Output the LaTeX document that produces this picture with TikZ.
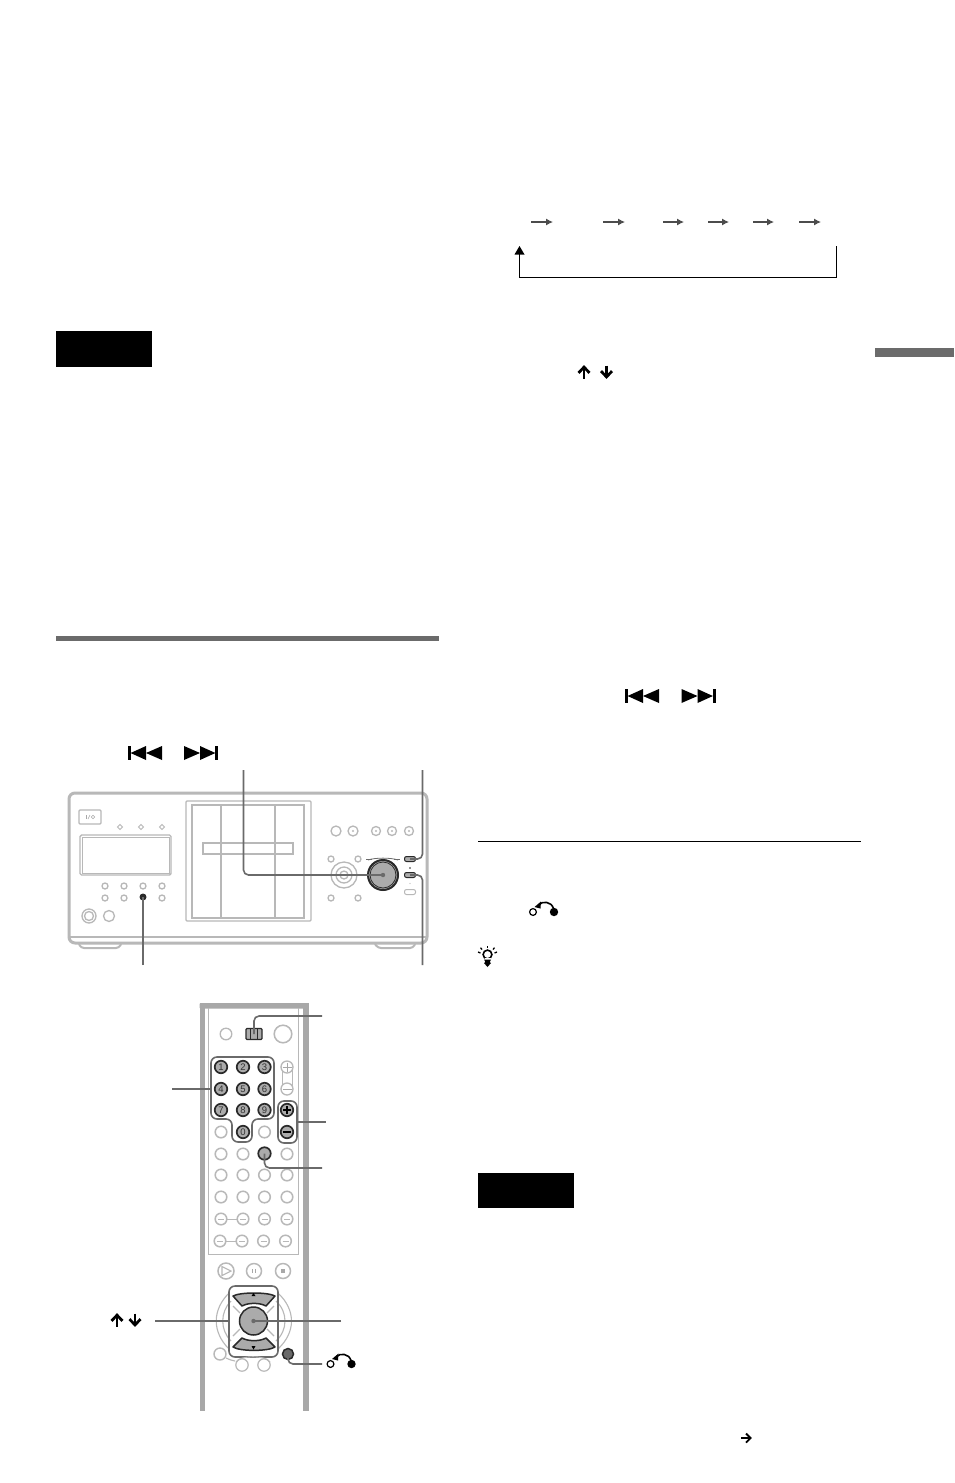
\documentclass[tikz,border=0pt]{standalone}
\usepackage{fontspec}
\setmainfont{Liberation Sans}
\usetikzlibrary{arrows.meta}
\definecolor{lightline}{HTML}{B8B8B8}
\definecolor{midline}{HTML}{A8A8A8}
\definecolor{leader}{HTML}{6A6A6A}
\definecolor{keyfill}{HTML}{ABABAB}
\definecolor{keyedge}{HTML}{2A2A2A}
\definecolor{barfill}{HTML}{6B6B6B}
\tikzset{
  x=1pt,y=-1pt,
  lightpart/.style={draw=lightline,line width=1.3pt,fill=white},
  thickpart/.style={draw=lightline,line width=3pt,fill=white,rounded corners=4pt},
  leadline/.style={draw=leader,line width=1.6pt,rounded corners=5pt},
  outline/.style={draw=leader,line width=1.6pt,rounded corners=6pt},
  flow/.style={draw=black!70,line width=1.1pt,-{Latex[length=7pt,width=7pt]}},
  loopline/.style={draw=black,line width=.9pt},
  keydark/.style={circle,inner sep=0pt,minimum size=12.5pt,fill=keyfill,draw=keyedge,line width=1.7pt,font=\fontsize{9.5}{10}\selectfont,text=black!80},
  prevsym/.pic={
    \fill[black] (0,0) rectangle (2.6,14);
    \fill[black] (2.6,7) -- (18,0) -- (18,14) -- cycle;
    \fill[black] (18,7) -- (34,0) -- (34,14) -- cycle;
  },
  nextsym/.pic={
    \fill[black] (34,0) rectangle (31.4,14);
    \fill[black] (31.4,7) -- (16,0) -- (16,14) -- cycle;
    \fill[black] (16,7) -- (0,0) -- (0,14) -- cycle;
  },
  uparrowsym/.pic={
    \draw[black,line width=2.8pt] (0,6.5) -- (0,-4);
    \draw[black,line width=2.8pt,miter limit=6] (-5.5,0.8) -- (0,-4.8) -- (5.5,0.8);
  },
  downarrowsym/.pic={
    \draw[black,line width=2.8pt] (0,-6.5) -- (0,4);
    \draw[black,line width=2.8pt,miter limit=6] (-5.5,-0.8) -- (0,4.8) -- (5.5,-0.8);
  },
  returnsym/.pic={
    \draw[black,line width=1.2pt,fill=white] (-10.5,0) circle (3.4);
    \fill[black] (10.5,0) circle (4.2);
    \draw[black,line width=1.6pt] (10,-3.5) .. controls (8,-10.5) and (-1,-11.5) .. (-5,-7);
    \fill[black] (-9,-5) -- (-2.5,-10.5) -- (-3,-3.5) -- cycle;
  }
}
\begin{document}
\begin{tikzpicture}
\useasboundingbox (0,0) rectangle (954,1483);
\fill[white] (0,0) rectangle (954,1483);

% page furniture
\node[fill=black,draw=none,minimum width=96pt,minimum height=36pt,inner sep=0pt] (noteA) at (104,349) {};
\node[fill=black,draw=none,minimum width=96pt,minimum height=35pt,inner sep=0pt] (noteB) at (526,1190.5) {};
\fill[barfill] (875,348) rectangle (954,357);
\fill[barfill] (56,636) rectangle (439,641);
\draw[black,line width=1pt] (478,841.5) -- (861,841.5);

% flow arrows
\foreach \i/\a/\b in {1/531/553,2/603/625,3/663/684,4/708/729,5/753/774,6/799/821}{
  \coordinate (f\i a) at (\a,222);
  \coordinate (f\i b) at (\b,222);
  \draw[flow] (f\i a) -- (f\i b);
}
\coordinate (loopStart) at (836.5,246);
\coordinate (loopEnd) at (519.5,246);
\draw[loopline] (loopStart) |- (519.5,277) -- (519.5,253);
\fill[black] (loopEnd) -- (514.5,254.5) -- (524.5,254.5) -- cycle;

% symbols in text
\pic at (128,746) {prevsym};
\pic at (184,746) {nextsym};
\pic at (625,689) {prevsym};
\pic at (681.5,689) {nextsym};
\pic at (584,372) {uparrowsym};
\pic at (606.5,372) {downarrowsym};
\pic at (117,1320) {uparrowsym};
\pic at (135,1320) {downarrowsym};
\pic at (543.5,912) {returnsym};
\pic at (341,1364) {returnsym};
% tip symbol
\draw[black,line width=1.6pt] (487.5,954.5) circle (4.4);
\foreach \dx/\dy/\ex/\ey in {0/-6.5/0/-8.8,-5.5/-5/-7/-6.8,5.5/-5/7/-6.8,-7/-1.5/-9.5/-2.5,7/-1.5/9.5/-2.5}{
  \draw[black,line width=1.3pt] (487.5+\dx,954.5+\dy) -- (487.5+\ex,954.5+\ey);
}
\fill[white] (484.5,957.5) rectangle (490.5,960);
\fill[black] (484,959.5) -- (491,959.5) -- (490,961.5) -- (489.5,962) -- (491,963) -- (487.5,967) -- (484,963) -- (485.5,962) -- (485,961.5) -- cycle;
% small arrow bottom
\draw[black,line width=1.8pt] (741,1438) -- (750,1438);
\draw[black,line width=1.8pt] (746,1433.5) -- (750.5,1438) -- (746,1442.5);

% ===== player front =====
\draw[thickpart,rounded corners=6pt] (69,793) rectangle (427,943);
\draw[lightline,line width=2.5pt] (70,937) -- (426,937);
\draw[lightline,line width=2pt,rounded corners=3pt] (79,944) -- (81,948) -- (119,948) -- (121,944);
\draw[lightline,line width=2pt,rounded corners=3pt] (375,944) -- (378,948) -- (413,948) -- (415,944);
% door
\draw[lightline,line width=1.3pt,rounded corners=1pt] (186,801) rectangle (311,921);
\draw[lightline,line width=1.1pt] (192,805) rectangle (304,918);
\draw[lightline,line width=1.1pt] (221,805) -- (221,918);
\draw[lightline,line width=1.1pt] (275,805) -- (275,918);
\draw[lightline,line width=1.1pt,fill=white] (203,843) rectangle (293,854);
\draw[lightline,line width=1.1pt] (221,843) -- (221,854);
\draw[lightline,line width=1.1pt] (275,843) -- (275,854);
% power
\draw[lightline,line width=1.1pt,rounded corners=1pt] (79,810) rectangle (101,824);
\draw[midline,line width=.6pt] (86,815) -- (86,819);
\draw[midline,line width=.6pt] (88,819) -- (90,815);
\draw[midline,line width=.6pt] (93,817) circle (1.8);
% indicators
\foreach \x in {120,141,162}{\draw[lightline,line width=1pt] (\x,824.5) -- (\x+2.5,827) -- (\x,829.5) -- (\x-2.5,827) -- cycle;}
% display
\draw[lightline,line width=1.4pt,rounded corners=1.5pt] (80,835) rectangle (171,875);
\draw[lightline,line width=.8pt] (82,837) rectangle (169,873);
% lower-left buttons
\foreach \x in {105,124,143,162}{\draw[lightpart] (\x,886) circle (3);}
\foreach \x in {105,124,162}{\draw[lightpart] (\x,898) circle (3);}
\node[circle,fill=keyedge,draw=none,inner sep=0pt,minimum size=7pt] (playBtn) at (143,897) {};
\draw[lightpart] (89,916) circle (7);
\draw[lightpart] (89,916) circle (4.5);
\draw[lightpart] (109,916) circle (5.5);
% top-right buttons
\draw[lightpart] (336,831) circle (5);
\draw[lightpart] (353,831) circle (5);
\foreach \x in {376,392,409}{\draw[lightpart] (\x,831) circle (4.5);}
\foreach \x in {353,376,392,409}{\fill[lightline] (\x,831) circle (1.2);}
% joystick
\draw[lightpart] (344,875) circle (13);
\draw[lightpart] (344,875) circle (8);
\draw[lightpart] (344,875) circle (4);
\foreach \x/\y in {331/859,358/859,331/898,358/898}{\draw[lightpart] (\x,\y) circle (3);}
% jog dial
\node[circle,draw=keyedge,line width=2pt,fill=keyfill,inner sep=0pt,minimum size=30pt] (jog) at (383,875) {};
\draw[keyedge,line width=.8pt] (383,875) circle (13);
\draw[leader,line width=.8pt] (368,860) .. controls (375,857.5) and (391,857.5) .. (398,860);
\fill[leader] (366,859) rectangle (372,860);
\fill[leader] (394,859) rectangle (400,860);
% oval buttons
\node[draw=keyedge,fill=keyfill,line width=1pt,rounded corners=2pt,inner sep=0pt,minimum width=11pt,minimum height=5pt] (ovalA) at (410,859) {};
\node[draw=keyedge,fill=keyfill,line width=1pt,rounded corners=2pt,inner sep=0pt,minimum width=11pt,minimum height=5pt] (ovalB) at (410,875) {};
\node[draw=lightline,fill=white,line width=1pt,rounded corners=2pt,inner sep=0pt,minimum width=11pt,minimum height=5pt] (ovalC) at (410,892) {};
\fill[lightline] (410,883.5) circle (.7);
\fill[keyedge] (410,868) circle (.8);
% leaders
\coordinate (lA) at (243.5,770);
\coordinate (lB) at (422.5,770);
\coordinate (lC) at (422.5,965);
\coordinate (lD) at (143,965);
\draw[leadline] (lA) |- (jog.center);
\fill[leader] (jog.center) circle (2.2);
\draw[leadline] (lB) |- (ovalA.center);
\draw[leadline] (lC) |- (ovalB.center);
\draw[leadline] (lD) -- (playBtn.center);

% ===== remote =====
\fill[midline,rounded corners=1pt] (199.5,1003) rectangle (308,1008.5);
\fill[midline] (199.5,1003) rectangle (205,1411);
\fill[midline] (303,1003) rectangle (308.5,1411);
\draw[lightline,line width=1pt] (208.5,1008) -- (208.5,1254) -- (298.5,1254) -- (298.5,1008);
% top buttons
\draw[lightpart] (226,1034) circle (5.8);
\draw[lightpart,line width=1.5pt] (283,1034) circle (8.8);
\node[draw=keyedge,fill=keyfill,line width=1.3pt,rounded corners=1pt,inner sep=0pt,minimum width=16pt,minimum height=11pt] (modeSw) at (254,1034) {};
\draw[keyedge,line width=.9pt] (250.5,1028.5) -- (250.5,1039.5);
\draw[keyedge,line width=.9pt] (257.5,1028.5) -- (257.5,1039.5);
% keypad
\foreach \n/\x/\y in {1/221/1067,2/243/1067,3/264.5/1067,4/221/1089,5/243/1089,6/264.5/1089,7/221/1110,8/243/1110,9/264.5/1110,0/243/1132}{
  \node[keydark] (k\n) at (\x,\y) {\n};
}
% volume light
\draw[lightline,line width=1pt] (282,1067) -- (282,1089);
\draw[lightline,line width=1pt] (292,1067) -- (292,1089);
\node[lightpart,circle,inner sep=0pt,minimum size=12pt] (volU) at (287,1067) {};
\node[lightpart,circle,inner sep=0pt,minimum size=12pt] (volD) at (287,1089) {};
\draw[midline,line width=1pt] (282.5,1067) -- (291.5,1067) (287,1062.5) -- (287,1071.5);
\draw[midline,line width=1pt] (282.5,1089) -- (291.5,1089);
% plus minus dark
\node[keydark] (pl) at (287,1110) {};
\node[keydark] (mi) at (287,1132) {};
\draw[black,line width=1.2pt] (283,1110) -- (291,1110) (287,1106) -- (287,1114);
\draw[black,line width=1.2pt] (283,1132) -- (291,1132);
% remaining light keys
\foreach \x/\y in {221/1132,264.5/1132,221/1154,243/1154,287/1154,
  221/1175,243/1175,264.5/1175,287/1175,221/1197,243/1197,264.5/1197,287/1197,
  221/1219,243/1219,264.5/1219,287/1219,220/1241,242/1241,263.5/1241,285.5/1241}{
  \draw[lightpart,line width=1.5pt] (\x,\y) circle (5.8);
}
\foreach \x/\y in {221/1219,243/1219,264.5/1219,287/1219,220/1241,242/1241,263.5/1241,285.5/1241}{
  \draw[lightline,line width=1pt] (\x-3,\y) -- (\x+3,\y);
}
\draw[lightline,line width=1pt] (227,1219) -- (237,1219);
\draw[lightline,line width=1pt] (226,1241) -- (236,1241);
\node[keydark,minimum size=12.5pt] (selBtn) at (264.5,1153.5) {};
% keypad outline
\draw[outline] (211,1057) -- (274,1057) -- (274,1119) -- (252,1119) -- (252,1142) -- (232,1142) -- (232,1119) -- (211,1119) -- cycle;
\draw[outline] (278,1101) rectangle (297,1143);
\coordinate (kpL) at (172,1089);
\coordinate (kpR) at (211,1089);
\coordinate (swR) at (322,1016);
\coordinate (volL) at (297,1122);
\coordinate (volR) at (326,1122);
\coordinate (selR) at (322,1168);
\draw[leadline] (kpL) -- (kpR);
\draw[leadline] (swR) -| (modeSw.center);
\draw[leadline] (volL) -- (volR);
\draw[leadline] (selR) -| (selBtn.center);
% transport
\draw[lightpart,line width=1.5pt] (226,1271) circle (8);
\draw[lightline,line width=1.1pt] (222,1266.5) -- (231,1271) -- (222,1275.5) -- cycle;
\draw[lightpart,line width=1.5pt] (254,1271) circle (7.5);
\draw[midline,line width=1pt] (252.5,1269) -- (252.5,1273) (255,1269) -- (255,1273);
\draw[lightpart,line width=1.5pt] (283,1271) circle (7.5);
\fill[midline] (281,1269) rectangle (285,1273);
% d-pad
\draw[lightline,line width=1.1pt] (229,1293) .. controls (212,1310) and (212,1332) .. (229,1349);
\draw[lightline,line width=1.1pt] (278,1293) .. controls (296,1310) and (296,1332) .. (278,1349);
\draw[lightline,line width=1.1pt] (231,1301) .. controls (220,1312) and (220,1330) .. (231,1341);
\draw[lightline,line width=1.1pt] (276,1301) .. controls (288,1312) and (288,1330) .. (276,1341);
\draw[lightline,line width=1.1pt] (233,1306) -- (240,1313) (233,1336) -- (240,1329);
\draw[lightline,line width=1.1pt] (274,1306) -- (267,1313) (274,1336) -- (267,1329);
\draw[draw=keyedge,fill=keyfill,line width=1.5pt,line join=round] (233,1296) .. controls (240,1292) and (268,1292) .. (275,1296) -- (266,1306) .. controls (260,1302.5) and (248,1302.5) .. (242,1306) -- cycle;
\draw[draw=keyedge,fill=keyfill,line width=1.5pt,line join=round] (233,1347) .. controls (240,1351.5) and (268,1351.5) .. (275,1347) -- (266,1338) .. controls (260,1341.5) and (248,1341.5) .. (242,1338) -- cycle;
\fill[black] (253.5,1293) -- (255.5,1296) -- (251.5,1296) -- cycle;
\fill[black] (251.5,1346) -- (255.5,1346) -- (253.5,1349.5) -- cycle;
\node[circle,draw=keyedge,fill=keyfill,line width=1.5pt,inner sep=0pt,minimum size=28pt] (enter) at (253.5,1321) {};
\draw[outline] (229,1286) rectangle (278,1357);
\draw[lightpart,line width=1.4pt] (220,1354) circle (6);
\draw[lightline,line width=1.1pt] (226,1358) .. controls (229,1360) and (232,1360) .. (235,1361);
\draw[lightline,line width=1.2pt] (242,1365) circle (6.2);
\draw[lightline,line width=1.2pt] (264,1365) circle (6.2);
\draw[lightline,line width=1.1pt] (236,1362) .. controls (240,1355) and (266,1355) .. (270,1362);
\node[circle,draw=keyedge,fill=leader,line width=1.5pt,inner sep=0pt,minimum size=11pt] (retBtn) at (288,1354) {};
\coordinate (arL) at (155,1321);
\coordinate (arR) at (229,1321);
\coordinate (enR) at (341,1321);
\coordinate (reR) at (322,1364);
\draw[leadline] (arL) -- (arR);
\draw[leadline] (enR) -- (enter.center);
\fill[leader] (enter.center) circle (2.2);
\draw[leadline] (reR) -| (retBtn.center);
\end{tikzpicture}
\end{document}
